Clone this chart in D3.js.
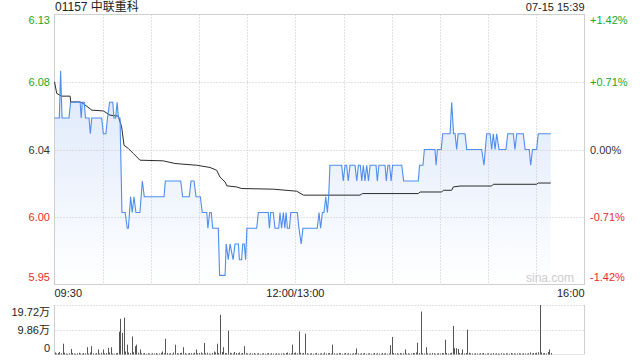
<!DOCTYPE html>
<html>
<head>
<meta charset="utf-8">
<script src="https://cdn.jsdelivr.net/npm/d3@7"></script>
<style>
body { margin: 0; background: #fff; }
svg { display: block; font-family: Arial, "Liberation Sans", "Noto Sans CJK SC", sans-serif; }
</style>
</head>
<body>
<div id="chart"></div>
<script>
var stockName = "01157 中联重科";
var stampText = "07-15 15:39";
var prevClose = 6.04;
var priceTicks = ["6.13", "6.08", "6.04", "6.00", "5.95"];
var pctTicks = ["+1.42%", "+0.71%", "0.00%", "-0.71%", "-1.42%"];
var pctValues = [0.0142, 0.0071, 0, -0.0071, -0.0142];
var timeLabels = ["09:30", "12:00/13:00", "16:00"];
var timeMinutes = [0, 150, 330];
var volTicks = ["19.72万", "9.86万", "0"];
var volTickValues = [19.72, 9.86, 0];

// [minute since 09:30 (lunch removed), price]
var priceLine = [
	[0,6.06],[3,6.06],[3.8,6.09],[4.7,6.06],[9,6.06],[10,6.07],[16,6.07],[16.6,6.06],[17.3,6.07],
	[18.5,6.07],[19.3,6.06],[21.5,6.06],[22.3,6.05],[23.2,6.06],[29.4,6.06],[30.4,6.05],[32,6.05],
	[33,6.06],[34.3,6.07],[36.3,6.07],[37,6.06],[38,6.06],[39,6.07],[39.8,6.06],[40.8,6.06],
	[42,6.00],[44,6.00],[45.3,5.99],[46,5.99],[47.4,6.01],[48.4,6.00],[49.5,6.01],[50.7,6.00],
	[53.2,6.00],[54.7,6.02],[55.9,6.01],[68.2,6.01],[69,6.02],[78.6,6.02],[79.8,6.01],[83.9,6.01],
	[85,6.02],[86.9,6.02],[88.1,6.01],[90.8,6.01],[92,6.00],[94.8,6.00],[95.5,5.99],[96.6,6.00],
	[97.6,6.00],[98.5,5.99],[102,5.99],[102.8,5.96],[106.2,5.96],[106.9,5.98],[108.2,5.97],
	[109.3,5.98],[111.2,5.97],[112.4,5.98],[114.5,5.98],[115.1,5.97],[116.5,5.97],[117.2,5.98],
	[118.2,5.98],[119,5.97],[119.8,5.99],[125.9,5.99],[126.9,6.00],[133.1,6.00],[133.8,5.99],
	[134.6,6.00],[136.2,6.00],[137.3,5.99],[139.6,5.99],[140.4,6.00],[141.4,5.99],[142.5,6.00],
	[143.4,5.99],[144.2,6.00],[145,5.99],[146.3,5.99],[147.1,6.00],[151.2,6.00],[152.2,5.99],
	[153.6,5.98],[154.7,5.99],[163.6,5.99],[164.7,6.00],[165.7,5.99],[166.8,6.00],[167.8,6.00],
	[168.9,6.01],[169.9,6.00],[170.7,6.01],[171.5,6.03],[178.8,6.03],[179.8,6.02],[180.9,6.03],
	[181.9,6.03],[182.9,6.02],[184,6.03],[187.1,6.03],[188.2,6.02],[189.2,6.03],[190.4,6.03],
	[191.3,6.02],[192.3,6.03],[193.3,6.02],[194.4,6.03],[195.5,6.02],[196.5,6.03],[200.2,6.03],
	[201,6.02],[202,6.03],[205.8,6.03],[206.6,6.02],[207.6,6.03],[208.6,6.03],[209.6,6.02],
	[210.5,6.03],[216.2,6.03],[217.4,6.02],[226.5,6.02],[227.3,6.03],[229.4,6.03],[230.3,6.04],
	[236.9,6.04],[237.6,6.03],[238.4,6.04],[240.8,6.04],[241.7,6.05],[246.3,6.05],[247.3,6.07],
	[248.5,6.05],[249.4,6.05],[250.4,6.04],[251.3,6.05],[255.6,6.05],[256.7,6.04],[266,6.04],
	[267.4,6.03],[269.1,6.05],[271.2,6.05],[272.2,6.04],[273.2,6.05],[274.3,6.04],[275.3,6.05],
	[276.8,6.04],[281.1,6.04],[282.2,6.05],[285.7,6.05],[286.7,6.04],[287.8,6.05],[291.9,6.05],
	[293,6.04],[295.6,6.04],[296.5,6.03],[297.6,6.04],[300.2,6.04],[301.2,6.05],[309,6.05]
];

// [minute, average price]
var avgLine = [
	[0,6.083],[1.4,6.0756],[4.5,6.0739],[9.7,6.0739],[10.1,6.0702],[15.9,6.0702],[17.9,6.0692],
	[23.2,6.065],[30.4,6.0645],[34.6,6.0618],[39.7,6.0612],[41.8,6.0544],[43.3,6.0427],[46,6.0406],
	[49.1,6.0375],[53.2,6.0332],[67.7,6.0328],[75,6.0311],[88.5,6.030],[96.8,6.0286],[101,6.0268],
	[103,6.0225],[106.2,6.0194],[107.3,6.0169],[113.4,6.0162],[116.6,6.0152],[136.2,6.0148],
	[150.8,6.0135],[155,6.011],[190.2,6.011],[191.7,6.012],[226.5,6.012],[227.6,6.013],
	[241.1,6.013],[242.1,6.0141],[247.3,6.0141],[248.3,6.0162],[252.5,6.0168],[272.2,6.0168],
	[273.2,6.0179],[300.2,6.0179],[301.2,6.0187],[309,6.0187]
];

// volume per minute, 万 shares (minute 0..309)
var volumes = [
	0.8,0.4,0.6,1.0,0.5,4.3,0.7,0.4,0.3,0.5,
	2.2,0.6,0.4,0.3,0.5,0.7,0.4,0.3,0.6,0.5,
	2.9,0.4,0.8,3.3,0.5,0.3,0.6,2.0,0.4,0.7,
	2.0,0.5,0.6,2.6,0.8,2.9,0.4,0.3,0.5,0.6,
	9.1,14.2,8.6,14.7,1.2,3.9,0.8,0.6,7.2,0.9,
	3.3,3.9,0.7,2.0,0.5,0.4,0.6,0.3,0.5,0.4,
	0.3,0.5,0.4,0.6,0.3,0.4,0.7,1.2,0.5,6.3,
	0.6,0.4,0.5,0.3,0.8,3.9,0.5,0.4,0.6,0.7,
	2.9,0.5,0.3,0.4,0.6,0.5,0.4,0.7,2.0,0.5,
	0.6,0.8,0.4,4.6,0.5,0.7,0.4,0.3,0.6,1.2,
	0.8,4.3,0.6,15.8,1.0,2.9,0.6,0.5,9.5,0.7,
	0.5,0.4,1.0,0.6,0.5,0.8,0.4,0.6,3.3,0.5,
	0.4,0.3,0.5,0.4,0.6,0.3,0.4,0.5,0.3,0.4,
	0.5,0.3,0.4,0.6,0.3,0.5,0.4,0.3,0.5,0.4,
	0.3,0.4,0.5,0.3,0.6,0.8,0.4,0.5,3.9,0.6,
	0.8,0.5,9.2,0.7,0.4,0.6,8.3,0.5,0.3,0.4,
	0.5,0.3,0.4,0.6,0.3,0.4,0.5,0.3,0.8,0.4,
	0.5,0.6,0.4,3.9,0.5,0.3,0.4,0.6,0.5,0.3,
	0.4,0.6,0.3,0.5,0.4,0.3,0.5,0.6,2.4,0.4,
	0.3,0.5,0.4,0.6,0.3,0.4,0.5,0.3,0.4,0.6,
	0.3,0.5,0.4,0.3,0.6,0.4,0.5,0.3,0.4,3.7,
	7.0,0.6,0.4,0.5,0.3,0.6,0.4,0.5,2.0,0.4,
	0.5,0.3,0.4,0.6,0.5,0.8,4.7,0.6,17.1,0.5,
	0.4,2.9,0.5,0.3,0.4,0.6,0.5,0.3,0.4,0.5,
	0.4,0.6,0.5,5.9,0.6,0.4,0.5,0.7,11.4,2.5,
	2.5,2.2,0.6,0.5,2.0,0.4,0.6,9.9,0.7,0.5,
	0.4,0.3,0.5,0.4,0.3,0.5,0.4,0.6,0.3,0.4,
	0.5,0.3,0.4,0.6,0.3,0.5,0.4,0.3,0.5,0.4,
	0.3,0.5,0.4,0.3,0.6,0.4,0.5,0.3,0.4,0.5,
	0.4,0.3,0.5,0.4,0.3,0.5,0.8,0.4,0.6,0.5,
	0.7,0.9,19.72,0.8,0.5,0.6,0.4,1.0,2.0,0.6
];

var width = 640, height = 360;
var plotLeft = 54.5, plotRight = 584.5;
var plotTop = 14.5, plotBottom = 284.5;
var volTop = 305, volBottom = 354.5;

var green = "#22a722", red = "#ec2a2a", dark = "#333";

var svg = d3.select("#chart").append("svg")
	.attr("width", width)
	.attr("height", height);

var x = d3.scaleLinear().domain([0, 330]).range([plotLeft, plotRight]);
var y = d3.scaleLinear()
	.domain([prevClose * (1 - 0.0142), prevClose * (1 + 0.0142)])
	.range([plotBottom, plotTop]);
var yVol = d3.scaleLinear().domain([0, 19.72]).range([volBottom, volTop]);

function colorFor(i) {
	if (pctValues[i] > 0) return green;
	if (pctValues[i] < 0) return red;
	return dark;
}

// gradient for area
var grad = svg.append("defs").append("linearGradient")
	.attr("id", "fillGrad")
	.attr("gradientUnits", "userSpaceOnUse")
	.attr("x1", 0).attr("y1", plotTop)
	.attr("x2", 0).attr("y2", plotBottom);
grad.append("stop").attr("offset", "0%").attr("stop-color", "#d2e1f9");
grad.append("stop").attr("offset", "100%").attr("stop-color", "#ffffff");

// header
svg.append("text")
	.attr("x", 55).attr("y", 11)
	.attr("font-size", 12).attr("fill", "#222")
	.text(stockName);
svg.append("text")
	.attr("x", plotRight).attr("y", 11)
	.attr("text-anchor", "end")
	.attr("font-size", 11).attr("fill", "#222")
	.text(stampText);

// area under price
var area = d3.area()
	.x(function(d) { return x(d[0]); })
	.y0(plotBottom)
	.y1(function(d) { return y(d[1]); });
svg.append("path")
	.datum(priceLine)
	.attr("d", area)
	.attr("fill", "url(#fillGrad)");

// horizontal grid
svg.selectAll(".hgrid")
	.data(pctValues.slice(1, 4))
	.enter()
	.append("line")
	.attr("x1", plotLeft).attr("x2", plotRight)
	.attr("y1", function(d) { return Math.round(y(prevClose * (1 + d))) + 0.5; })
	.attr("y2", function(d) { return Math.round(y(prevClose * (1 + d))) + 0.5; })
	.attr("stroke", "#c4c4c4")
	.attr("stroke-dasharray", "1,2");

// vertical grid every 30 minutes
svg.selectAll(".vgrid")
	.data(d3.range(30, 330, 30))
	.enter()
	.append("line")
	.attr("x1", function(d) { return Math.round(x(d)) + 0.5; })
	.attr("x2", function(d) { return Math.round(x(d)) + 0.5; })
	.attr("y1", plotTop).attr("y2", plotBottom)
	.attr("stroke", "#c4c4c4")
	.attr("stroke-dasharray", "1,2");

svg.append("rect")
	.attr("x", plotLeft).attr("y", plotTop)
	.attr("width", plotRight - plotLeft).attr("height", plotBottom - plotTop)
	.attr("fill", "none")
	.attr("stroke", "#cfcfcf");

var line = d3.line()
	.x(function(d) { return x(d[0]); })
	.y(function(d) { return y(d[1]); });

svg.append("path")
	.datum(avgLine)
	.attr("d", line)
	.attr("fill", "none")
	.attr("stroke", "#2b2b2b")
	.attr("stroke-width", 1);

svg.append("path")
	.datum(priceLine)
	.attr("d", line)
	.attr("fill", "none")
	.attr("stroke", "#4f8def")
	.attr("stroke-width", 1.1);

// price labels (left) and percent labels (right)
function labelY(i) {
	var yy = y(prevClose * (1 + pctValues[i]));
	if (i == 0) return yy + 9;
	if (i == pctValues.length - 1) return yy - 3.5;
	return yy + 4;
}
svg.selectAll(".plabel")
	.data(priceTicks)
	.enter()
	.append("text")
	.attr("x", 50)
	.attr("y", function(d, i) { return labelY(i); })
	.attr("text-anchor", "end")
	.attr("font-size", 11)
	.attr("fill", function(d, i) { return colorFor(i); })
	.text(function(d) { return d; });
svg.selectAll(".pctlabel")
	.data(pctTicks)
	.enter()
	.append("text")
	.attr("x", 590)
	.attr("y", function(d, i) { return labelY(i); })
	.attr("font-size", 11)
	.attr("fill", function(d, i) { return colorFor(i); })
	.text(function(d) { return d; });

svg.append("text")
	.attr("x", 574).attr("y", 282)
	.attr("text-anchor", "end")
	.attr("font-size", 12)
	.attr("fill", "#cccccc")
	.text("sina.com");

// time labels
svg.selectAll(".tlabel")
	.data(timeLabels)
	.enter()
	.append("text")
	.attr("x", function(d, i) { return x(timeMinutes[i]); })
	.attr("y", 297)
	.attr("text-anchor", function(d, i) { return i == 0 ? "start" : (i == 2 ? "end" : "middle"); })
	.attr("font-size", 11)
	.attr("fill", "#222")
	.text(function(d) { return d; });

// volume panel
svg.selectAll(".vol-grid")
	.data([19.72, 9.86])
	.enter()
	.append("line")
	.attr("x1", plotLeft).attr("x2", plotRight)
	.attr("y1", function(d) { return Math.round(yVol(d)) + 0.5; })
	.attr("y2", function(d) { return Math.round(yVol(d)) + 0.5; })
	.attr("stroke", "#c4c4c4")
	.attr("stroke-dasharray", "1,2");
svg.append("line")
	.attr("x1", plotLeft).attr("x2", plotLeft)
	.attr("y1", volTop).attr("y2", volBottom)
	.attr("stroke", "#cfcfcf");
svg.append("line")
	.attr("x1", plotRight).attr("x2", plotRight)
	.attr("y1", volTop).attr("y2", volBottom)
	.attr("stroke", "#cfcfcf");
svg.append("line")
	.attr("x1", plotLeft).attr("x2", plotRight)
	.attr("y1", volBottom).attr("y2", volBottom)
	.attr("stroke", "#e4e4e4");

svg.selectAll(".vbar")
	.data(volumes)
	.enter()
	.append("line")
	.attr("x1", function(d, i) { return Math.round(x(i)) + 0.5; })
	.attr("x2", function(d, i) { return Math.round(x(i)) + 0.5; })
	.attr("y1", volBottom)
	.attr("y2", function(d) { return yVol(d); })
	.attr("stroke", "#555")
	.attr("stroke-width", 1);

svg.selectAll(".vlabel")
	.data(volTicks)
	.enter()
	.append("text")
	.attr("x", 50)
	.attr("y", function(d, i) {
		var yy = yVol(volTickValues[i]);
		if (i == 0) return yy + 11;
		if (i == volTicks.length - 1) return yy - 2.5;
		return yy + 4;
	})
	.attr("text-anchor", "end")
	.attr("font-size", 11)
	.attr("fill", "#222")
	.text(function(d) { return d; });
</script>
</body>
</html>
